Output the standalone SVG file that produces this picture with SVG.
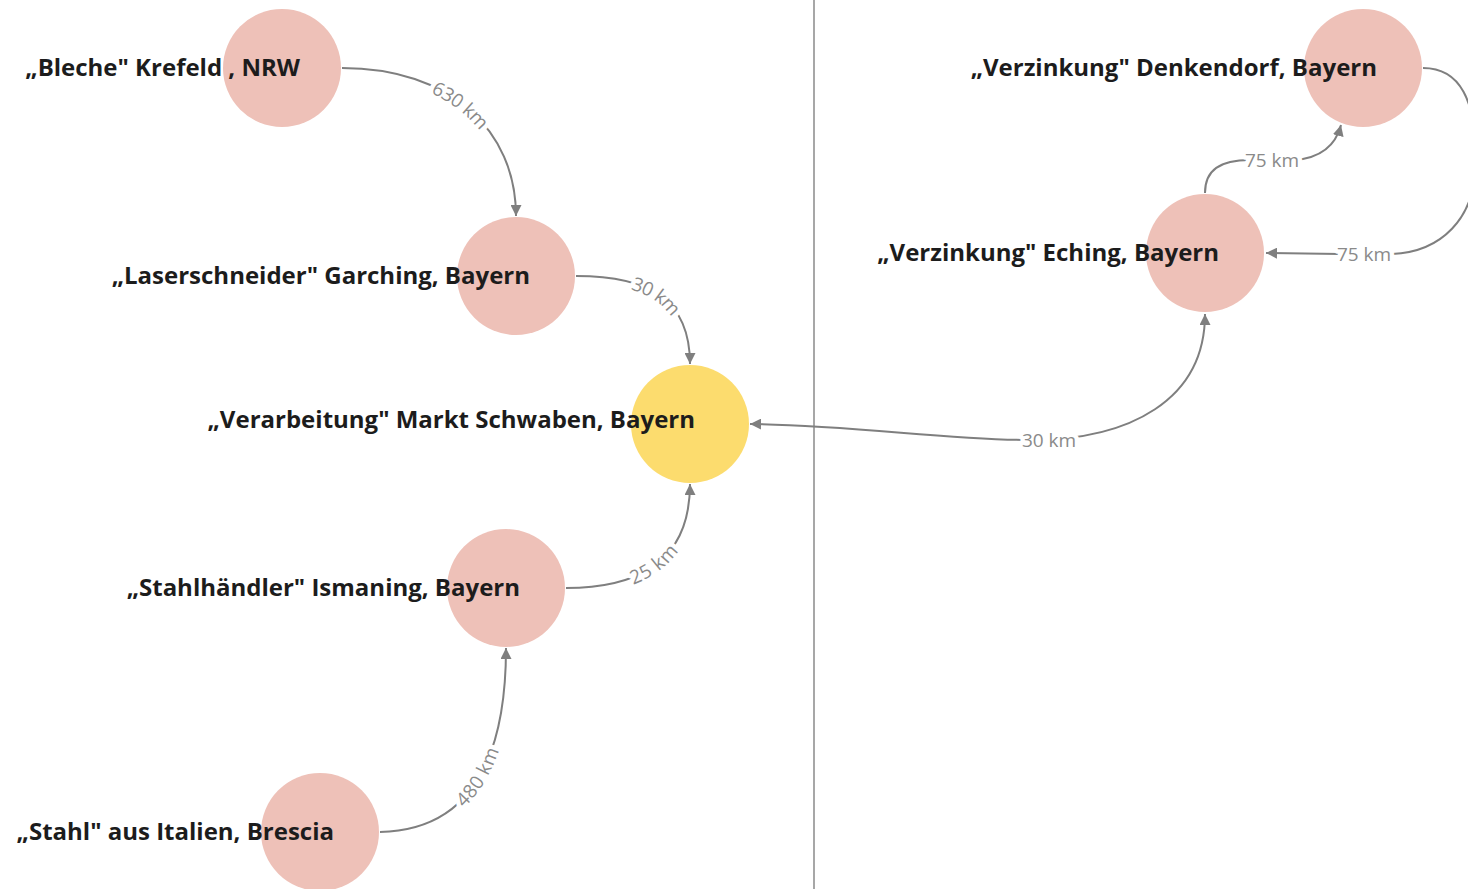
<svg xmlns="http://www.w3.org/2000/svg" width="1468" height="889" viewBox="0 0 1468 889">
  <style>
    .pink { fill: #eec1b8; }
    .yellow { fill: #fcdc6e; }
    .name { font-family: "Open Sans", "Noto Sans", sans-serif; font-weight: 700; font-size: 24px; fill: #1c1c1c; text-anchor: end; }
    .edge { fill: none; stroke: #7f7f7f; stroke-width: 2; }
    .km { font-family: "Open Sans", "Noto Sans", sans-serif; font-size: 19px; fill: #8a8a8a; }
    .halo { fill: #ffffff; stroke: #ffffff; stroke-width: 9px; stroke-linejoin: round; }
    .divider { stroke: #8a8a8a; stroke-width: 1.5; }
  </style>
  <defs>
    <marker id="arrow" viewBox="0 0 10 10" refX="10" refY="5" markerWidth="11" markerHeight="11" markerUnits="userSpaceOnUse" orient="auto-start-reverse">
      <path d="M0,0 L10,5 L0,10 z" fill="#7f7f7f"/>
    </marker>
    <path id="p-bleche" d="M342,68 C 450,68 516,130 516,216"/>
    <path id="p-laser" d="M576,276 C 650,276 690,300 690,364"/>
    <path id="p-haendler" d="M566,588 C 640,588 690,560 690,484"/>
    <path id="p-stahl" d="M380,832 C 470,830 506,760 506,648"/>
  </defs>

  <rect width="1468" height="889" fill="#ffffff"/>
  <line class="divider" x1="814" y1="0" x2="814" y2="889"/>

  <!-- connectors -->
  <g id="connectors">
    <use href="#p-bleche" class="edge" marker-end="url(#arrow)"/>
    <use href="#p-laser" class="edge" marker-end="url(#arrow)"/>
    <use href="#p-haendler" class="edge" marker-end="url(#arrow)"/>
    <use href="#p-stahl" class="edge" marker-end="url(#arrow)"/>
    <path class="edge" d="M750,424 C 850,425 950,440 1030,440 C 1130,440 1205,400 1205,314" marker-start="url(#arrow)" marker-end="url(#arrow)"/>
    <path class="edge" d="M1205,193 C 1205,170 1220,160 1250,160 L 1295,160 C 1318,158 1335,148 1341,125" marker-end="url(#arrow)"/>
    <path class="edge" d="M1423,68 C 1460,68 1476,100 1476,160 C 1476,220 1440,252 1392,254 L 1340,254 L 1266,253" marker-end="url(#arrow)"/>

    <!-- white backing under the distance labels, then the labels -->
    <g class="km halo">
      <text dy="7"><textPath href="#p-bleche" startOffset="49.5%" text-anchor="middle">630 km</textPath></text>
      <text dy="7"><textPath href="#p-laser" startOffset="51%" text-anchor="middle">30 km</textPath></text>
      <text dy="7"><textPath href="#p-haendler" startOffset="50%" text-anchor="middle">25 km</textPath></text>
      <text dy="7"><textPath href="#p-stahl" startOffset="47%" text-anchor="middle">480 km</textPath></text>
      <text x="1049" y="447" text-anchor="middle">30 km</text>
      <text x="1272" y="167" text-anchor="middle">75 km</text>
      <text x="1364" y="261" text-anchor="middle">75 km</text>
    </g>
    <g class="km">
      <text dy="7"><textPath href="#p-bleche" startOffset="49.5%" text-anchor="middle">630 km</textPath></text>
      <text dy="7"><textPath href="#p-laser" startOffset="51%" text-anchor="middle">30 km</textPath></text>
      <text dy="7"><textPath href="#p-haendler" startOffset="50%" text-anchor="middle">25 km</textPath></text>
      <text dy="7"><textPath href="#p-stahl" startOffset="47%" text-anchor="middle">480 km</textPath></text>
      <text x="1049" y="447" text-anchor="middle">30 km</text>
      <text x="1272" y="167" text-anchor="middle">75 km</text>
      <text x="1364" y="261" text-anchor="middle">75 km</text>
    </g>
  </g>

  <!-- nodes -->
  <g id="n-bleche">
    <circle class="pink" cx="282" cy="68" r="59"/>
    <text class="name" x="300" y="76">„Bleche" Krefeld , NRW</text>
  </g>
  <g id="n-laser">
    <circle class="pink" cx="516" cy="276" r="59"/>
    <text class="name" x="530" y="284">„Laserschneider" Garching, Bayern</text>
  </g>
  <g id="n-verarbeitung">
    <circle class="yellow" cx="690" cy="424" r="59"/>
    <text class="name" x="695" y="428">„Verarbeitung" Markt Schwaben, Bayern</text>
  </g>
  <g id="n-haendler">
    <circle class="pink" cx="506" cy="588" r="59"/>
    <text class="name" x="520" y="596">„Stahlhändler" Ismaning, Bayern</text>
  </g>
  <g id="n-stahl">
    <circle class="pink" cx="320" cy="832" r="59"/>
    <text class="name" x="334" y="840">„Stahl" aus Italien, Brescia</text>
  </g>
  <g id="n-denkendorf">
    <circle class="pink" cx="1363" cy="68" r="59"/>
    <text class="name" x="1377" y="76">„Verzinkung" Denkendorf, Bayern</text>
  </g>
  <g id="n-eching">
    <circle class="pink" cx="1205" cy="253" r="59"/>
    <text class="name" x="1219" y="261">„Verzinkung" Eching, Bayern</text>
  </g>
</svg>
